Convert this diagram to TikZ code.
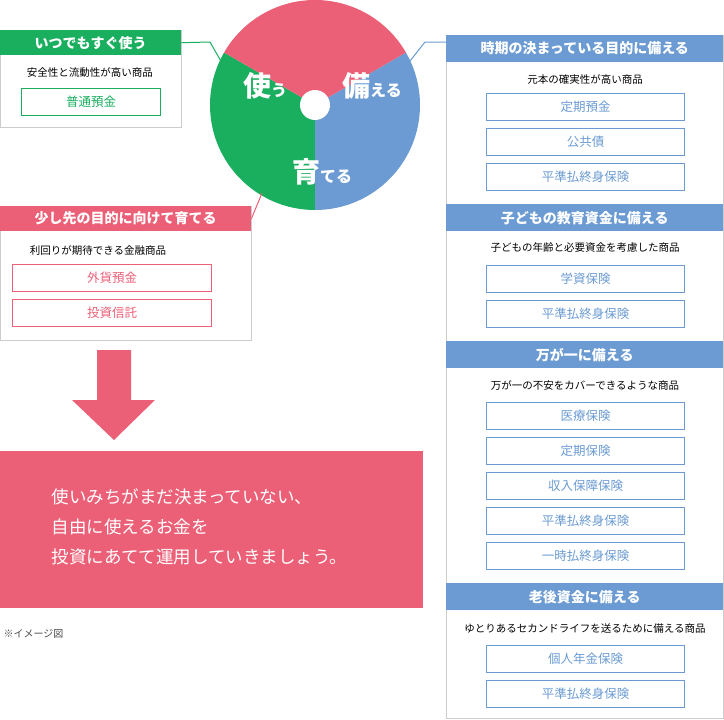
\documentclass[tikz,border=0pt]{standalone}
\usepackage{fontspec}
\setmainfont{Noto Sans CJK JP}
\usetikzlibrary{positioning}
\definecolor{usegreen}{HTML}{1AAE5F}
\definecolor{saveblue}{HTML}{6B9BD2}
\definecolor{growred}{HTML}{EB6077}
\definecolor{framegray}{HTML}{CCCCCC}
\tikzset{
    hdr/.style={anchor=north west, inner sep=0pt, text=white, font=\bfseries\fontsize{14}{16}\selectfont},
    frame/.style={draw=framegray, line width=0.8pt, anchor=north west, inner sep=0pt},
    note/.style={font=\fontsize{10.5}{12}\selectfont},
    item/.style={draw=#1, line width=1.3pt, text=#1, anchor=north west, inner sep=0pt, minimum height=27pt, font=\fontsize{12.5}{14}\selectfont},
}
\begin{document}
\begin{tikzpicture}[x=1pt,y=-1pt]
\useasboundingbox (0,0) rectangle (724,720);
% pie
\coordinate (pie) at (315,105);
\fill[usegreen] (pie) -- ++(90:105) arc[start angle=90, end angle=210, radius=105] -- cycle;
\fill[saveblue] (pie) -- ++(90:105) arc[start angle=90, end angle=-30, radius=105] -- cycle;
\fill[growred] (pie) -- ++(-30:105) arc[start angle=-30, end angle=-150, radius=105] -- cycle;
\fill[white] (pie) circle[radius=15];
\node[text=white, font=\bfseries] (use) at (265,86) {{\fontsize{28}{30}\selectfont 使}{\fontsize{16}{18}\selectfont う}};
\node[text=white, font=\bfseries] (save) at (372,86) {{\fontsize{28}{30}\selectfont 備}{\fontsize{16}{18}\selectfont える}};
\node[text=white, font=\bfseries] (grow) at (322,172) {{\fontsize{28}{30}\selectfont 育}{\fontsize{16}{18}\selectfont てる}};
% left top
\node[frame, minimum width=181pt, minimum height=97pt] (ubody) at (0,30) {};
\node[hdr, fill=usegreen, minimum width=181pt, minimum height=25pt] (uhdr) at (0,30) {いつでもすぐ使う};
\node[note] (unote) at (90,73) {安全性と流動性が高い商品};
\node[item=usegreen, minimum width=139pt] (u1) at (21,88) {普通預金};
\coordinate (ujoint) at (210,42);
\coordinate (upie) at (222,63);
\draw[usegreen, line width=1pt] (uhdr.east) -- (ujoint) -- (upie);
% left middle
\node[frame, minimum width=251pt, minimum height=134pt] (gbody) at (0,206) {};
\node[hdr, fill=growred, minimum width=251pt, minimum height=25pt] (ghdr) at (0,206) {少し先の目的に向けて育てる};
\node[note] (gnote) at (98,250) {利回りが期待できる金融商品};
\node[item=growred, minimum width=199pt] (g1) at (12,264) {外貨預金};
\node[item=growred, minimum width=199pt] (g2) at (12,299) {投資信託};
\coordinate (gpie) at (262,193);
\draw[growred, line width=1pt] (ghdr.east) -- (gpie);
% arrow and message
\fill[growred] (97,350) -- (131,350) -- (131,400) -- (155,400) -- (114,440) -- (72,400) -- (97,400) -- cycle;
\node[fill=growred, anchor=north west, minimum width=423pt, minimum height=157pt, inner sep=0pt] (msg) at (0,451) {};
\node[anchor=west, text=white, align=left, font=\fontsize{17.5}{30}\selectfont] (msgtext) at (48,527)
{使いみちがまだ決まっていない、\\自由に使えるお金を\\投資にあてて運用していきましょう。};
\node[anchor=west, font=\fontsize{10}{12}\selectfont, text=black!70] (caption) at (0,634) {※イメージ図};
% right column
\node[frame, minimum width=277pt, minimum height=683pt] (sbody) at (446,35) {};
\node[hdr, fill=saveblue, minimum width=277pt, minimum height=27pt] (s1hdr) at (446,35) {時期の決まっている目的に備える};
\node[hdr, fill=saveblue, minimum width=277pt, minimum height=27pt] (s2hdr) at (446,204) {子どもの教育資金に備える};
\node[hdr, fill=saveblue, minimum width=277pt, minimum height=27pt] (s3hdr) at (446,341) {万が一に備える};
\node[hdr, fill=saveblue, minimum width=277pt, minimum height=27pt] (s4hdr) at (446,583) {老後資金に備える};
\node[note] (s1note) at (585,79) {元本の確実性が高い商品};
\node[note] (s2note) at (585,248) {子どもの年齢と必要資金を考慮した商品};
\node[note] (s3note) at (585,385) {万が一の不安をカバーできるような商品};
\node[note] (s4note) at (585,629) {ゆとりあるセカンドライフを送るために備える商品};
\foreach \y/\name/\label in {93/a1/定期預金, 128/a2/公共債, 163/a3/平準払終身保険,
    265/b1/学資保険, 300/b2/平準払終身保険,
    402/c1/医療保険, 437/c2/定期保険, 472/c3/収入保障保険, 507/c4/平準払終身保険, 542/c5/一時払終身保険,
    645/d1/個人年金保険, 680/d2/平準払終身保険}
    \node[item=saveblue, minimum width=198pt] (\name) at (486,\y) {\label};
\coordinate (sjoint) at (425,42);
\coordinate (spie) at (410,61);
\draw[saveblue, line width=1pt] (s1hdr.west |- 0,42) -- (sjoint) -- (spie);
\end{tikzpicture}
\end{document}
